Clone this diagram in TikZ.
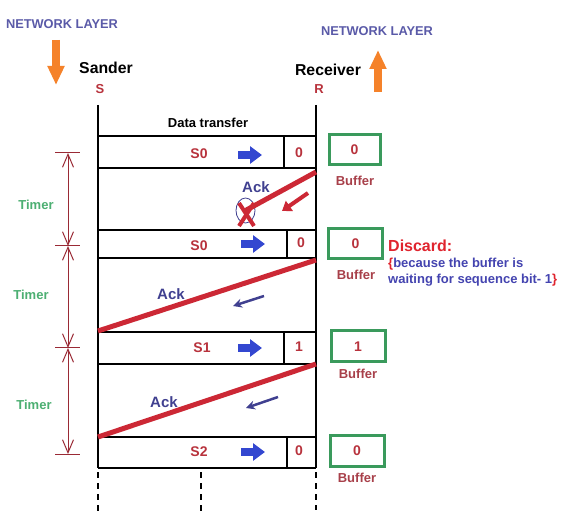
\documentclass[tikz,border=0pt]{standalone}
\usepackage{fontspec}
\setmainfont{Liberation Sans}
\usetikzlibrary{arrows.meta,shapes.geometric}
\definecolor{nlblue}{HTML}{5A5AA8}
\definecolor{orng}{HTML}{F5822A}
\definecolor{txtred}{HTML}{B8323C}
\definecolor{bufred}{HTML}{A8404A}
\definecolor{ackblue}{HTML}{404090}
\definecolor{arrblue}{HTML}{3347D0}
\definecolor{linered}{HTML}{CC2835}
\definecolor{boxgreen}{HTML}{3A9A5C}
\definecolor{timergreen}{HTML}{4CAF72}
\definecolor{timerred}{HTML}{9A2A35}
\definecolor{discred}{HTML}{E0242E}
\definecolor{becblue}{HTML}{4444B0}
\newcommand{\fs}[1]{\fontsize{#1}{#1}\selectfont\bfseries}
\begin{document}
\begin{tikzpicture}[x=1pt,y=-1pt,
  lbl/.style={inner sep=0pt, anchor=center},
  nettxt/.style={lbl, text=nlblue, font=\fs{12.8}},
  hdr/.style={lbl, text=black, font=\fs{15.8}},
  sr/.style={lbl, text=txtred, font=\fs{13}},
  seqtxt/.style={lbl, text=txtred, font=\fs{14}},
  buftxt/.style={lbl, text=bufred, font=\fs{13}},
  acktxt/.style={lbl, text=ackblue, font=\fs{15}},
  timertxt/.style={lbl, text=timergreen, font=\fs{13}},
  bufbox/.style={draw=boxgreen, line width=3pt, minimum width=51pt, minimum height=30pt, inner sep=0pt, text=txtred, font=\fs{14}},
  frame/.style={line width=1.3pt, black},
  dashline/.style={line width=1.3pt, black, dash pattern=on 6pt off 5pt},
  orangearrow/.style={orng, line width=8pt, -{Triangle[length=19pt,width=16pt]}},
  blockarrow/.style={arrblue, line width=8pt, -{Triangle[length=12pt,width=17pt]}},
  thinarrow/.style={ackblue, line width=2.5pt, -{Stealth[length=9pt,width=9pt]}},
  ackline/.style={linered, line width=5pt},
  redarrow/.style={linered, line width=4pt, -{Triangle[length=9pt,width=12pt]}},
  timerline/.style={timerred, line width=1pt, {Straight Barb[length=13pt,width=11pt]}-{Straight Barb[length=13pt,width=11pt]}},
  tick/.style={timerred, line width=1pt}
]
\useasboundingbox[fill=white] (0,0) rectangle (566,516);

% headers
\node[nettxt] (nl1) at (62,24) {NETWORK LAYER};
\node[nettxt] (nl2) at (377,31) {NETWORK LAYER};
\coordinate (oa1s) at (56,40); \coordinate (oa1e) at (56,85);
\draw[orangearrow] (oa1s) -- (oa1e);
\coordinate (oa2s) at (378,92); \coordinate (oa2e) at (378,50);
\draw[orangearrow] (oa2s) -- (oa2e);
\node[hdr] (sander) at (106,68) {Sander};
\node[hdr] (recv) at (328,70) {Receiver};
\node[sr] (S) at (100,89) {S};
\node[sr] (R) at (319,89) {R};
\node[lbl, font=\fs{13}] (dt) at (208,123) {Data transfer};

% frame verticals
\coordinate (LT) at (98,105); \coordinate (LB) at (98,468);
\coordinate (RT) at (316,105); \coordinate (RB) at (316,468);
\draw[frame] (LT) -- (LB);
\draw[frame] (RT) -- (RB);
\foreach \y in {136,168,230,258,332,364,437,468}{
  \draw[frame] (98,\y) -- (316,\y);
}
\draw[frame] (284,136) -- (284,168);
\draw[frame] (287,230) -- (287,258);
\draw[frame] (284,332) -- (284,364);
\draw[frame] (287,437) -- (287,468);

% dashed continuations
\draw[dashline] (98,472) -- (98,512);
\draw[dashline] (201,472) -- (201,512);
\draw[dashline] (316,472) -- (316,510);

% row texts
\node[seqtxt] (s0a) at (199,154) {S0};
\node[seqtxt] (b0a) at (299,153) {0};
\draw[blockarrow] (238,155) -- (262,155);
\node[seqtxt] (s0b) at (199,246) {S0};
\node[seqtxt] (b0b) at (301,243) {0};
\draw[blockarrow] (241,244) -- (265,244);
\node[seqtxt] (s1) at (202,348) {S1};
\node[seqtxt] (b1) at (299,347) {1};
\draw[blockarrow] (238,348) -- (262,348);
\node[seqtxt] (s2) at (199,452) {S2};
\node[seqtxt] (b2) at (299,451) {0};
\draw[blockarrow] (241,452) -- (265,452);

% buffers
\node[bufbox] (buf1) at (354.5,150) {0};
\node[buftxt] (bl1) at (355,181) {Buffer};
\node[bufbox, minimum width=54pt] (buf2) at (355.5,244) {0};
\node[buftxt] (bl2) at (356,275) {Buffer};
\node[bufbox, minimum width=54pt, minimum height=31pt] (buf3) at (358,346.5) {1};
\node[buftxt] (bl3) at (358,374) {Buffer};
\node[bufbox, minimum width=54pt, minimum height=31pt] (buf4) at (357,450.5) {0};
\node[buftxt] (bl4) at (357,478) {Buffer};

% discard note
\node[lbl, anchor=west, text=discred, font=\fs{16}] (disc) at (388,246) {Discard:};
\node[lbl, anchor=west, text=becblue, font=\fs{13}] (bec1) at (388,264) {\textcolor{discred}{\{}because the buffer is};
\node[lbl, anchor=west, text=becblue, font=\fs{13}] (bec2) at (388,280) {waiting for sequence bit- 1\textcolor{discred}{\}}};

% lost ack
\node[acktxt] (ack1) at (256,187) {Ack};
\node[draw=ackblue, line width=0.8pt, ellipse, minimum width=19pt, minimum height=25pt, inner sep=0pt] (xc) at (245.5,210.5) {};
\coordinate (a1s) at (316,172);
\draw[ackline] (a1s) -- (xc.center);
\coordinate (x1) at (239,203); \coordinate (x2) at (254,226);
\coordinate (x3) at (254,203); \coordinate (x4) at (239,226);
\draw[linered, line width=4pt] (x1) -- (x2);
\draw[linered, line width=4pt] (x3) -- (x4);
\coordinate (ra1) at (308,193); \coordinate (ra2) at (282,211);
\draw[redarrow] (ra1) -- (ra2);

% ack 2
\coordinate (a2s) at (316,260); \coordinate (a2e) at (98,331);
\draw[ackline] (a2s) -- (a2e);
\node[acktxt] (ack2) at (171,294) {Ack};
\coordinate (ba1) at (264,296); \coordinate (ba2) at (233,306);
\draw[thinarrow] (ba1) -- (ba2);

% ack 3
\coordinate (a3s) at (316,364); \coordinate (a3e) at (98,437);
\draw[ackline] (a3s) -- (a3e);
\node[acktxt] (ack3) at (164,402) {Ack};
\coordinate (bb1) at (278,397); \coordinate (bb2) at (246,408);
\draw[thinarrow] (bb1) -- (bb2);

% timers
\coordinate (t0) at (68,153); \coordinate (t1) at (68,246);
\coordinate (t2) at (68,348); \coordinate (t3) at (68,454);
\draw[timerline] (t0) -- (t1);
\draw[timerline] (t1) -- (t2);
\draw[timerline] (t2) -- (t3);
\foreach \t in {t0,t1,t2,t3}{
  \draw[tick] ([xshift=-13pt]\t) -- ([xshift=12pt]\t);
}
\node[timertxt] (tm1) at (36,205) {Timer};
\node[timertxt] (tm2) at (31,295) {Timer};
\node[timertxt] (tm3) at (34,405) {Timer};
\end{tikzpicture}
\end{document}
